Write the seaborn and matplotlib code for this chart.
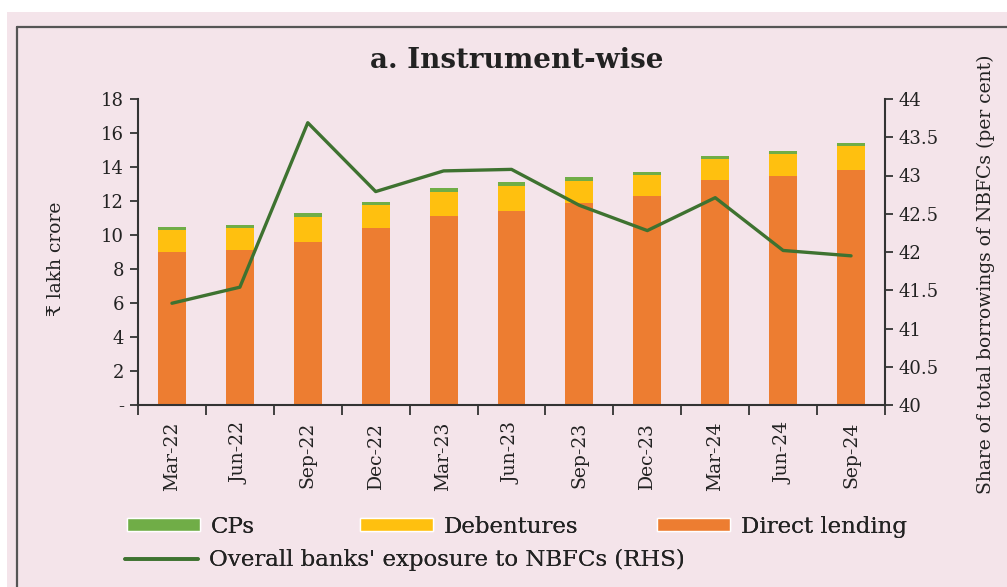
import numpy as np
import pandas as pd
import matplotlib
matplotlib.use("Agg")
import matplotlib.pyplot as plt
from matplotlib.patches import Patch, Rectangle
from matplotlib.lines import Line2D
import seaborn as sb

### DATA
quarters = ["Mar-22", "Jun-22", "Sep-22", "Dec-22", "Mar-23", "Jun-23",
            "Sep-23", "Dec-23", "Mar-24", "Jun-24", "Sep-24"]
direct_lending = [9.0, 9.1, 9.6, 10.4, 11.1, 11.4, 11.9, 12.3, 13.25, 13.45, 13.85]
debentures = [1.3, 1.3, 1.45, 1.35, 1.45, 1.5, 1.3, 1.25, 1.25, 1.3, 1.37]
cps = [0.2, 0.2, 0.23, 0.2, 0.2, 0.2, 0.2, 0.17, 0.17, 0.18, 0.2]
exposure = [41.33, 41.54, 43.69, 42.79, 43.06, 43.08, 42.61, 42.28, 42.71, 42.02, 41.95]

left_ticks = [0, 2, 4, 6, 8, 10, 12, 14, 16, 18]
left_ticklabels = ["-", "2", "4", "6", "8", "10", "12", "14", "16", "18"]
right_ticks = [40, 40.5, 41, 41.5, 42, 42.5, 43, 43.5, 44]
right_ticklabels = ["40", "40.5", "41", "41.5", "42", "42.5", "43", "43.5", "44"]

### STYLE
PINK = "#F4E4EA"
ORANGE = "#ED7D31"
YELLOW = "#FFC00F"
GREEN = "#70AD47"
DARKGREEN = "#3E7230"
TXT = "#222222"

sb.set_style("ticks")
plt.rcParams["font.family"] = ["DejaVu Serif", "DejaVu Sans"]
plt.rcParams["axes.edgecolor"] = "#333333"
plt.rcParams["xtick.color"] = "#333333"
plt.rcParams["ytick.color"] = "#333333"

df = pd.DataFrame({"quarter": quarters,
                   "direct": direct_lending,
                   "deb": np.array(direct_lending) + np.array(debentures),
                   "cp": np.array(direct_lending) + np.array(debentures) + np.array(cps),
                   "exposure": exposure})
df["pos"] = np.arange(len(df))

fig = plt.figure(figsize=(10.07, 5.87), dpi=100, facecolor="white")
# pink panel and its frame
fig.patches.append(Rectangle((7 / 1007, 0), 1, 1 - 12 / 587, transform=fig.transFigure,
                             facecolor=PINK, edgecolor="none", zorder=-10))
fig.add_artist(Line2D([17 / 1007, 17 / 1007], [0, 1 - 27 / 587], transform=fig.transFigure,
                      color="#555555", lw=1.6))
fig.add_artist(Line2D([17 / 1007, 1], [1 - 27 / 587, 1 - 27 / 587], transform=fig.transFigure,
                      color="#555555", lw=1.6))

ax = fig.add_axes([138 / 1007, 1 - 405 / 587, (885 - 138) / 1007, (405 - 99) / 587])
ax.set_facecolor(PINK)

# stacked bars, tallest first
for col, c in [("cp", GREEN), ("deb", YELLOW), ("direct", ORANGE)]:
    sb.barplot(data=df, x="quarter", y=col, color=c, width=0.41, ax=ax,
               saturation=1, linewidth=0)

ax.set_xlim(-0.5, len(quarters) - 0.5)
ax.set_ylim(0, 18)
ax.set_yticks(left_ticks)
ax.set_yticklabels(left_ticklabels, fontsize=13, color=TXT)
ax.set_xticks(range(len(quarters)))
ax.set_xticklabels(quarters, rotation=90, fontsize=13.5, color=TXT)
ax.tick_params(axis="x", length=0, pad=12)
ax.set_xticks(np.arange(-0.5, len(quarters), 1), minor=True)
ax.tick_params(axis="x", which="minor", length=7, width=1.3)
ax.tick_params(axis="y", length=6, width=1.3, pad=4)
ax.set_xlabel("")
ax.set_ylabel("₹ lakh crore", fontsize=13.5, color=TXT)
ax.yaxis.set_label_coords(-0.098, 0.477)
for s in ["top", "right"]:
    ax.spines[s].set_visible(False)
for s in ["left", "bottom"]:
    ax.spines[s].set_linewidth(1.5)

ax2 = ax.twinx()
sb.lineplot(data=df, x="pos", y="exposure", color=DARKGREEN, linewidth=2.4, ax=ax2)
ax2.set_ylim(40, 44)
ax2.set_yticks(right_ticks)
ax2.set_yticklabels(right_ticklabels, fontsize=13, color=TXT)
ax2.tick_params(axis="y", length=6, width=1.3, pad=4)
ax2.set_ylabel("Share of total borrowings of NBFCs (per cent)", fontsize=13.5, color=TXT)
ax2.yaxis.set_label_coords(1.123, 0.428)
for s in ["top", "left", "bottom"]:
    ax2.spines[s].set_visible(False)
ax2.spines["right"].set_linewidth(1.5)
ax2.set_xlabel("")

fig.text(0.513, 1 - 60 / 587, "a. Instrument-wise", fontsize=20, fontweight="bold",
         color=TXT, ha="center", va="center")

# legend entries placed one by one
entries = [
    (Patch(facecolor=GREEN), "CPs", 127, 527),
    (Patch(facecolor=YELLOW), "Debentures", 360, 527),
    (Patch(facecolor=ORANGE), "Direct lending", 657, 527),
    (Line2D([], [], color=DARKGREEN, lw=2.6), "Overall banks' exposure to NBFCs (RHS)", 125, 560),
]
for h, lab, px, py in entries:
    leg = fig.legend([h], [lab], loc="center left",
                     bbox_to_anchor=(px / 1007, 1 - py / 587), frameon=False,
                     fontsize=16.5, handlelength=3.2, handleheight=0.5,
                     handletextpad=0.45, borderpad=0, borderaxespad=0)
    for t in leg.get_texts():
        t.set_color(TXT)
    fig.add_artist(leg)

fig.savefig("out.png", dpi=100, facecolor="white")
